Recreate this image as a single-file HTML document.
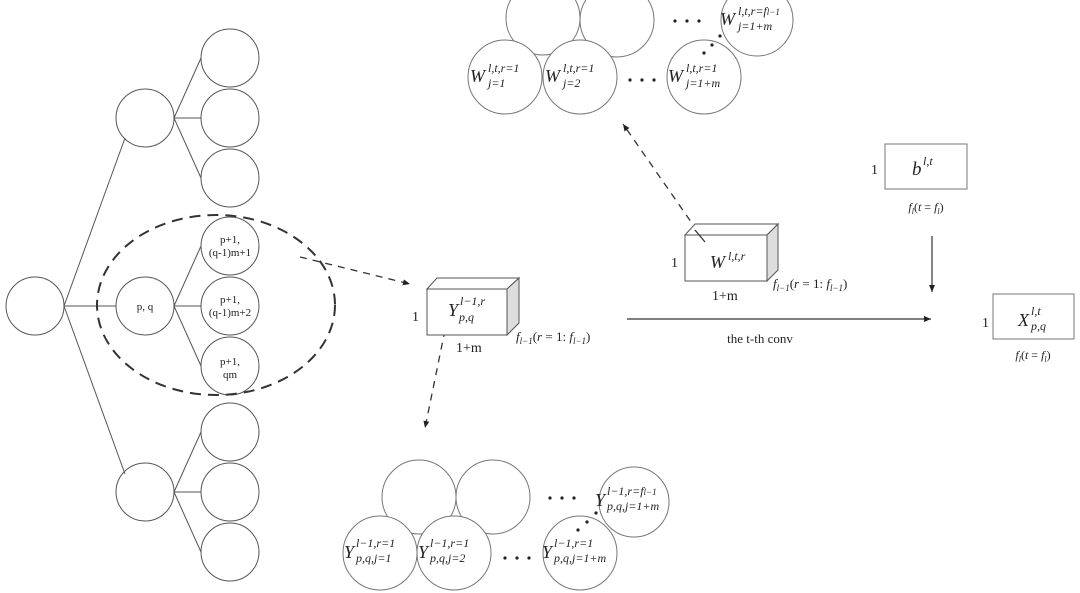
<!DOCTYPE html>
<html><head><meta charset="utf-8"><style>
html,body{margin:0;padding:0;background:#fff}
svg{display:block}
text{font-family:"Liberation Serif",serif;fill:#222}
.m{font-style:italic}
</style></head><body>
<svg width="1080" height="593" viewBox="0 0 1080 593" xmlns="http://www.w3.org/2000/svg">
<defs>
<marker id="ah" markerWidth="8" markerHeight="8" refX="7" refY="4" orient="auto" markerUnits="userSpaceOnUse">
<path d="M0,1 L7,4 L0,7 Z" fill="#222"/></marker>
</defs>
<g stroke="#555" stroke-width="1" fill="none">
<!-- tree lines -->
<line x1="64" y1="306" x2="125" y2="138"/>
<line x1="64" y1="306" x2="116" y2="306"/>
<line x1="64" y1="306" x2="125" y2="474"/>
<line x1="174" y1="118" x2="201" y2="58"/><line x1="174" y1="118" x2="201" y2="118"/><line x1="174" y1="118" x2="201" y2="178"/>
<line x1="174" y1="306" x2="201" y2="246"/><line x1="174" y1="306" x2="201" y2="306"/><line x1="174" y1="306" x2="201" y2="366"/>
<line x1="174" y1="492" x2="201" y2="432"/><line x1="174" y1="492" x2="201" y2="492"/><line x1="174" y1="492" x2="201" y2="552"/>
<circle cx="35" cy="306" r="29"/>
<circle cx="145" cy="118" r="29"/><circle cx="145" cy="306" r="29"/><circle cx="145" cy="492" r="29"/>
<circle cx="230" cy="58" r="29"/><circle cx="230" cy="118" r="29"/><circle cx="230" cy="178" r="29"/>
<circle cx="230" cy="246" r="29"/><circle cx="230" cy="306" r="29"/><circle cx="230" cy="366" r="29"/>
<circle cx="230" cy="432" r="29"/><circle cx="230" cy="492" r="29"/><circle cx="230" cy="552" r="29"/>
</g>
<ellipse cx="216" cy="305" rx="119" ry="90" fill="none" stroke="#333" stroke-width="2" stroke-dasharray="11,7"/>
<g font-size="11" text-anchor="middle">
<text x="145" y="310">p, q</text>
<text x="230" y="243">p+1,</text><text x="230" y="256">(q-1)m+1</text>
<text x="230" y="303">p+1,</text><text x="230" y="316">(q-1)m+2</text>
<text x="230" y="365">p+1,</text><text x="230" y="378">qm</text>
</g>
<!-- dashed arrows -->
<g stroke="#333" stroke-width="1.3" stroke-dasharray="7,6" fill="none">
<line x1="300" y1="257" x2="410" y2="284" marker-end="url(#ah)"/>
<line x1="445" y1="330" x2="425" y2="428" marker-end="url(#ah)"/>
<line x1="705" y1="242" x2="623" y2="124" marker-end="url(#ah)"/>
</g>
<!-- Y box -->
<g stroke="#555" stroke-width="1">
<path d="M427,289 L437,278 L519,278 L507,289 Z" fill="#fff"/>
<path d="M507,289 L519,278 L519,323 L507,335 Z" fill="#ddd"/>
<rect x="427" y="289" width="80" height="46" fill="#fff"/>
</g>
<text x="412" y="321" font-size="14">1</text>
<text x="448" y="316" font-size="18" class="m">Y</text>
<text x="460" y="305" font-size="12" class="m">l−1,r</text>
<text x="459" y="321" font-size="12" class="m">p,q</text>
<text x="456" y="352" font-size="14">1+m</text>
<text x="516" y="341" font-size="13"><tspan class="m">f</tspan><tspan font-size="9" class="m" dy="3">l−1</tspan><tspan dy="-3">(</tspan><tspan class="m">r</tspan> = 1: <tspan class="m">f</tspan><tspan font-size="9" class="m" dy="3">l−1</tspan><tspan dy="-3">)</tspan></text>
<!-- W box -->
<g stroke="#555" stroke-width="1">
<path d="M685,235 L695,224 L778,224 L767,235 Z" fill="#fff"/>
<path d="M767,235 L778,224 L778,270 L767,281 Z" fill="#ddd"/>
<rect x="685" y="235" width="82" height="46" fill="#fff"/>
</g>
<line x1="705" y1="242" x2="695" y2="230" stroke="#333" stroke-width="1.3"/>
<text x="671" y="267" font-size="14">1</text>
<text x="710" y="268" font-size="18" class="m">W</text>
<text x="728" y="260" font-size="12" class="m">l,t,r</text>
<text x="712" y="300" font-size="14">1+m</text>
<text x="773" y="288" font-size="13"><tspan class="m">f</tspan><tspan font-size="9" class="m" dy="3">l−1</tspan><tspan dy="-3">(</tspan><tspan class="m">r</tspan> = 1: <tspan class="m">f</tspan><tspan font-size="9" class="m" dy="3">l−1</tspan><tspan dy="-3">)</tspan></text>
<!-- main arrow -->
<line x1="627" y1="319" x2="931" y2="319" stroke="#333" stroke-width="1.2" marker-end="url(#ah)"/>
<text x="760" y="343" font-size="13" text-anchor="middle">the t-th conv</text>
<!-- b box -->
<rect x="885" y="144" width="82" height="45" fill="#fff" stroke="#777"/>
<text x="871" y="174" font-size="14">1</text>
<text x="912" y="175" font-size="19" class="m">b</text>
<text x="923" y="165" font-size="12" class="m">l,t</text>
<text x="926" y="211" font-size="12" text-anchor="middle"><tspan class="m">f</tspan><tspan font-size="8" class="m" dy="3">l</tspan><tspan dy="-3">(</tspan><tspan class="m">t</tspan> = <tspan class="m">f</tspan><tspan font-size="8" class="m" dy="3">l</tspan><tspan dy="-3">)</tspan></text>
<line x1="932" y1="236" x2="932" y2="292" stroke="#333" stroke-width="1.2" marker-end="url(#ah)"/>
<!-- X box -->
<rect x="993" y="294" width="81" height="45" fill="#fff" stroke="#777"/>
<text x="982" y="327" font-size="14">1</text>
<text x="1018" y="326" font-size="18" class="m">X</text>
<text x="1031" y="315" font-size="12" class="m">l,t</text>
<text x="1031" y="330" font-size="12" class="m">p,q</text>
<text x="1033" y="359" font-size="12" text-anchor="middle"><tspan class="m">f</tspan><tspan font-size="8" class="m" dy="3">l</tspan><tspan dy="-3">(</tspan><tspan class="m">t</tspan> = <tspan class="m">f</tspan><tspan font-size="8" class="m" dy="3">l</tspan><tspan dy="-3">)</tspan></text>
<!-- top W circles -->
<g stroke="#777" stroke-width="1" fill="#fff">
<circle cx="543" cy="18" r="37"/><circle cx="617" cy="20" r="37"/>
<circle cx="757" cy="20" r="36"/>
<circle cx="505" cy="77" r="37"/><circle cx="580" cy="77" r="37"/><circle cx="704" cy="77" r="37"/>
</g>
<g fill="#222">
<circle cx="675" cy="21" r="1.6"/><circle cx="687" cy="21" r="1.6"/><circle cx="699" cy="21" r="1.6"/>
<circle cx="630" cy="80" r="1.6"/><circle cx="642" cy="80" r="1.6"/><circle cx="654" cy="80" r="1.6"/>
<circle cx="704" cy="53" r="1.6"/><circle cx="712" cy="45" r="1.6"/><circle cx="720" cy="36" r="1.6"/>
</g>
<g class="m">
<text x="470" y="82" font-size="18" class="m">W</text><text x="488" y="72" font-size="12" class="m">l,t,r=1</text><text x="488" y="87" font-size="12" class="m">j=1</text>
<text x="545" y="82" font-size="18" class="m">W</text><text x="563" y="72" font-size="12" class="m">l,t,r=1</text><text x="563" y="87" font-size="12" class="m">j=2</text>
<text x="668" y="82" font-size="18" class="m">W</text><text x="686" y="72" font-size="12" class="m">l,t,r=1</text><text x="686" y="87" font-size="12" class="m">j=1+m</text>
<text x="720" y="25" font-size="18" class="m">W</text><text x="738" y="15" font-size="12" class="m">l,t,r=f<tspan font-size="9">l−1</tspan></text><text x="738" y="30" font-size="12" class="m">j=1+m</text>
</g>
<!-- bottom Y circles -->
<g stroke="#777" stroke-width="1" fill="#fff">
<circle cx="419" cy="497" r="37"/><circle cx="493" cy="497" r="37"/>
<circle cx="634" cy="502" r="35"/>
<circle cx="380" cy="553" r="37"/><circle cx="454" cy="553" r="37"/><circle cx="580" cy="553" r="37"/>
</g>
<g fill="#222">
<circle cx="550" cy="498" r="1.6"/><circle cx="562" cy="498" r="1.6"/><circle cx="574" cy="498" r="1.6"/>
<circle cx="505" cy="558" r="1.6"/><circle cx="517" cy="558" r="1.6"/><circle cx="529" cy="558" r="1.6"/>
<circle cx="578" cy="530" r="1.6"/><circle cx="587" cy="522" r="1.6"/><circle cx="596" cy="513" r="1.6"/>
</g>
<text x="344" y="558" font-size="18" class="m">Y</text><text x="356" y="547" font-size="12" class="m">l−1,r=1</text><text x="356" y="562" font-size="12" class="m">p,q,j=1</text>
<text x="418" y="558" font-size="18" class="m">Y</text><text x="430" y="547" font-size="12" class="m">l−1,r=1</text><text x="430" y="562" font-size="12" class="m">p,q,j=2</text>
<text x="542" y="558" font-size="18" class="m">Y</text><text x="554" y="547" font-size="12" class="m">l−1,r=1</text><text x="554" y="562" font-size="12" class="m">p,q,j=1+m</text>
<text x="595" y="506" font-size="18" class="m">Y</text><text x="607" y="495" font-size="12" class="m">l−1,r=f<tspan font-size="9">l−1</tspan></text><text x="607" y="510" font-size="12" class="m">p,q,j=1+m</text>
</svg>
</body></html>
